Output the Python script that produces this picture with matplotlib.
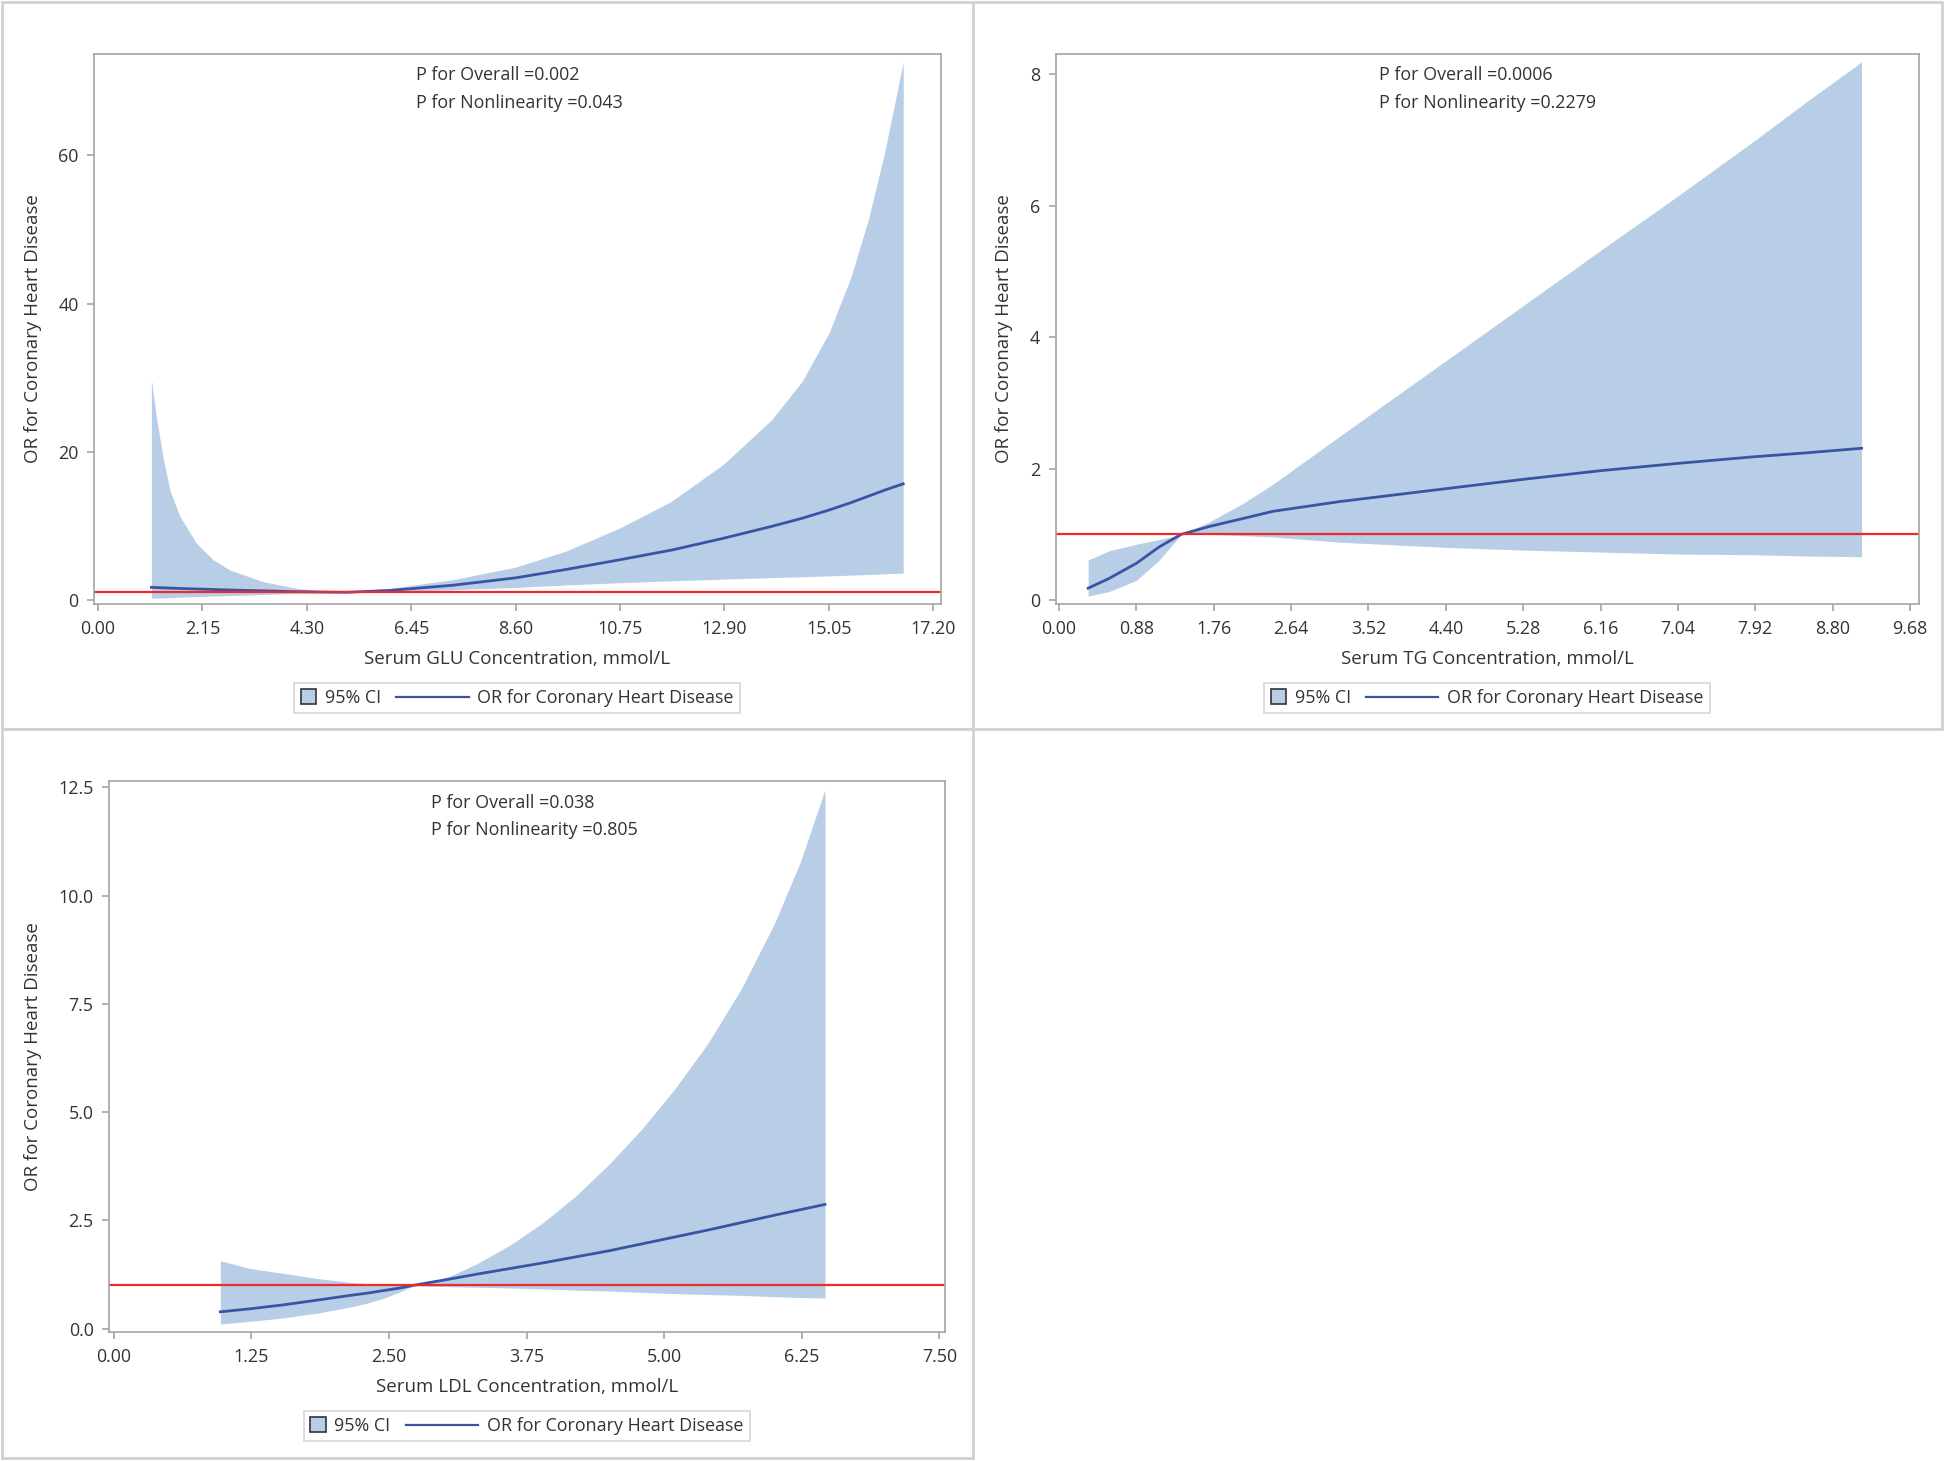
import numpy as np
import matplotlib
matplotlib.use("Agg")
import matplotlib.pyplot as plt
from matplotlib.patches import Rectangle
from matplotlib.lines import Line2D
from matplotlib.legend_handler import HandlerBase

plt.rcParams['font.family'] = ['Open Sans', 'DejaVu Sans']

# --- GLU panel ---
glu_x = [1.10, 1.21, 1.35, 1.48, 1.69, 2.03, 2.37, 2.72, 3.40, 4.09, 4.78, 5.12,
         6.01, 7.30, 8.60, 9.65, 10.75, 11.81, 12.88, 13.87, 14.50, 15.05, 15.50,
         15.87, 16.20, 16.58]
glu_hi = [29.7, 24.3, 18.9, 14.8, 11.2, 7.6, 5.4, 4.0, 2.43, 1.54, 1.08, 1.02,
          1.54, 2.70, 4.40, 6.60, 9.70, 13.3, 18.3, 24.3, 29.5, 36.0, 43.5,
          51.5, 60.5, 72.6]
glu_or = [1.67, 1.64, 1.60, 1.57, 1.52, 1.45, 1.38, 1.31, 1.20, 1.08, 1.02, 1.00,
          1.25, 1.95, 2.95, 4.10, 5.40, 6.70, 8.30, 9.90, 11.00, 12.10, 13.10,
          14.00, 14.80, 15.65]
glu_lo = [0.19, 0.21, 0.25, 0.28, 0.35, 0.42, 0.49, 0.55, 0.70, 0.85, 0.97, 1.00,
          1.10, 1.35, 1.65, 2.00, 2.30, 2.55, 2.78, 2.98, 3.10, 3.22, 3.32,
          3.40, 3.50, 3.60]

# --- TG panel ---
tg_x = [0.33, 0.57, 0.88, 1.14, 1.39, 1.71, 2.09, 2.43, 3.20, 4.43, 5.30, 6.17,
        7.04, 7.90, 8.50, 9.13]
tg_hi = [0.61, 0.75, 0.85, 0.92, 1.00, 1.19, 1.47, 1.76, 2.50, 3.67, 4.50, 5.33,
         6.15, 6.98, 7.58, 8.19]
tg_or = [0.18, 0.33, 0.56, 0.81, 1.00, 1.12, 1.24, 1.35, 1.50, 1.70, 1.84, 1.97,
         2.08, 2.18, 2.24, 2.31]
tg_lo = [0.06, 0.13, 0.30, 0.61, 1.00, 1.00, 0.98, 0.96, 0.88, 0.80, 0.76, 0.73,
         0.70, 0.69, 0.67, 0.66]

# --- LDL panel ---
ldl_x = [0.97, 1.24, 1.54, 1.85, 2.15, 2.30, 2.45, 2.60, 2.72, 2.90, 3.06, 3.30,
         3.60, 3.90, 4.20, 4.50, 4.80, 5.10, 5.40, 5.70, 6.00, 6.24, 6.46]
ldl_hi = [1.57, 1.39, 1.28, 1.16, 1.07, 1.04, 1.02, 1.01, 1.00, 1.09, 1.22, 1.50,
          1.93, 2.45, 3.07, 3.80, 4.62, 5.55, 6.60, 7.85, 9.35, 10.80, 12.45]
ldl_or = [0.39, 0.46, 0.55, 0.66, 0.77, 0.82, 0.88, 0.94, 1.00, 1.08, 1.15, 1.26,
          1.39, 1.52, 1.66, 1.80, 1.96, 2.12, 2.28, 2.45, 2.62, 2.75, 2.87]
ldl_lo = [0.11, 0.17, 0.25, 0.36, 0.50, 0.59, 0.70, 0.85, 0.99, 0.98, 0.97, 0.96,
          0.94, 0.92, 0.89, 0.87, 0.84, 0.81, 0.79, 0.77, 0.74, 0.72, 0.71]

glu_ticks = [0.00, 2.15, 4.30, 6.45, 8.60, 10.75, 12.90, 15.05, 17.20]
tg_ticks = [0.00, 0.88, 1.76, 2.64, 3.52, 4.40, 5.28, 6.16, 7.04, 7.92, 8.80, 9.68]
ldl_ticks = [0.00, 1.25, 2.50, 3.75, 5.00, 6.25, 7.50]

panels = [
    dict(x=glu_x, y=glu_or, lo=glu_lo, hi=glu_hi, xt=glu_ticks,
         yt=[0, 20, 40, 60], yfmt='%d', xlim=(-0.082, 17.35), ylim=(-0.58, 73.7),
         xlabel='Serum GLU Concentration, mmol/L', p1='P for Overall =0.002',
         p2='P for Nonlinearity =0.043', tx=0.380,
         rect=[94, 54, 940.6, 604], frame=[2, 2, 973, 729]),
    dict(x=tg_x, y=tg_or, lo=tg_lo, hi=tg_hi, xt=tg_ticks,
         yt=[0, 2, 4, 6, 8], yfmt='%d', xlim=(-0.04, 9.78), ylim=(-0.06, 8.31),
         xlabel='Serum TG Concentration, mmol/L', p1='P for Overall =0.0006',
         p2='P for Nonlinearity =0.2279', tx=0.375,
         rect=[1055.6, 54, 1918.7, 604], frame=[973, 2, 1942, 729]),
    dict(x=ldl_x, y=ldl_or, lo=ldl_lo, hi=ldl_hi, xt=ldl_ticks,
         yt=[0.0, 2.5, 5.0, 7.5, 10.0, 12.5], yfmt='%.1f', xlim=(-0.041, 7.55), ylim=(-0.076, 12.64),
         xlabel='Serum LDL Concentration, mmol/L', p1='P for Overall =0.038',
         p2='P for Nonlinearity =0.805', tx=0.385,
         rect=[109, 781.4, 945, 1332], frame=[2, 729, 973, 1458]),
]

W, H = 1946, 1461
band_c = '#b8cde6'
line_c = '#3a54a4'
red_c = '#ee2a2a'
grey = '#a4a4a4'
txt_c = '#333333'
FS = 12.9


class SquareHandler(HandlerBase):
    def create_artists(self, legend, orig_handle, xdescent, ydescent,
                       width, height, fontsize, trans):
        s = width
        r = Rectangle((-xdescent, -ydescent + height / 2 - s / 2), s, s,
                      facecolor=band_c, edgecolor='#333333', linewidth=1.2,
                      transform=trans)
        return [r]


class LongLineHandler(HandlerBase):
    # line handle that reaches further left than the (short) handle box
    def __init__(self, extra):
        super().__init__()
        self.extra = extra

    def create_artists(self, legend, orig_handle, xdescent, ydescent,
                       width, height, fontsize, trans):
        y = -ydescent + height / 2
        ln = Line2D([-xdescent - self.extra * fontsize, -xdescent + width], [y, y],
                    color=line_c, linewidth=1.6, transform=trans)
        return [ln]


fig = plt.figure(figsize=(W / 100, H / 100), dpi=100)

for p in panels:
    fx0, fy0, fx1, fy1 = p['frame']
    fig.add_artist(Rectangle((fx0 / W, 1 - fy1 / H), (fx1 - fx0) / W, (fy1 - fy0) / H,
                             transform=fig.transFigure, fill=False,
                             edgecolor='#d2d2d2', linewidth=2))

    x0, y0, x1, y1 = p['rect']
    ax = fig.add_axes([x0 / W, 1 - y1 / H, (x1 - x0) / W, (y1 - y0) / H])
    ax.fill_between(p['x'], p['lo'], p['hi'], color=band_c, linewidth=0)
    ax.plot(p['x'], p['y'], color=line_c, linewidth=2)
    ax.axhline(1, color=red_c, linewidth=1.6)

    ax.set_xlim(*p['xlim'])
    ax.set_ylim(*p['ylim'])
    ax.set_xticks(p['xt'])
    ax.set_xticklabels(['%.2f' % v for v in p['xt']])
    ax.set_yticks(p['yt'])
    ax.set_yticklabels([p['yfmt'] % v for v in p['yt']])
    ax.tick_params(colors=grey, labelcolor=txt_c, labelsize=FS, length=5, width=1.2)
    ax.tick_params(axis='x', pad=6.5)
    ax.tick_params(axis='y', pad=6)
    for s in ax.spines.values():
        s.set_color(grey)
        s.set_linewidth(1.2)

    ax.set_xlabel(p['xlabel'], fontsize=13.5, color=txt_c, labelpad=9)
    ax.set_ylabel('OR for Coronary Heart Disease', fontsize=13.5, color=txt_c, labelpad=12)

    ax.text(p['tx'], 0.961, p['p1'], transform=ax.transAxes, fontsize=FS,
            color=txt_c, va='center', ha='left')
    ax.text(p['tx'], 0.911, p['p2'], transform=ax.transAxes, fontsize=FS,
            color=txt_c, va='center', ha='left')

    h_ci = Rectangle((0, 0), 1, 1)
    h_or = Line2D([], [])
    leg = ax.legend([h_ci, h_or], ['95% CI', 'OR for Coronary Heart Disease'],
                    handler_map={h_ci: SquareHandler(), h_or: LongLineHandler(3.2)},
                    loc='upper center', bbox_to_anchor=(0.5, -0.143), ncol=2,
                    fontsize=FS, frameon=True, fancybox=False, handlelength=0.84,
                    columnspacing=4.05, handletextpad=0.5, borderpad=0.35,
                    borderaxespad=0)
    leg.get_frame().set_edgecolor('#cccccc')
    leg.get_frame().set_linewidth(1.2)
    for t in leg.get_texts():
        t.set_color(txt_c)

fig.savefig('out.png', dpi=100, facecolor='white')
